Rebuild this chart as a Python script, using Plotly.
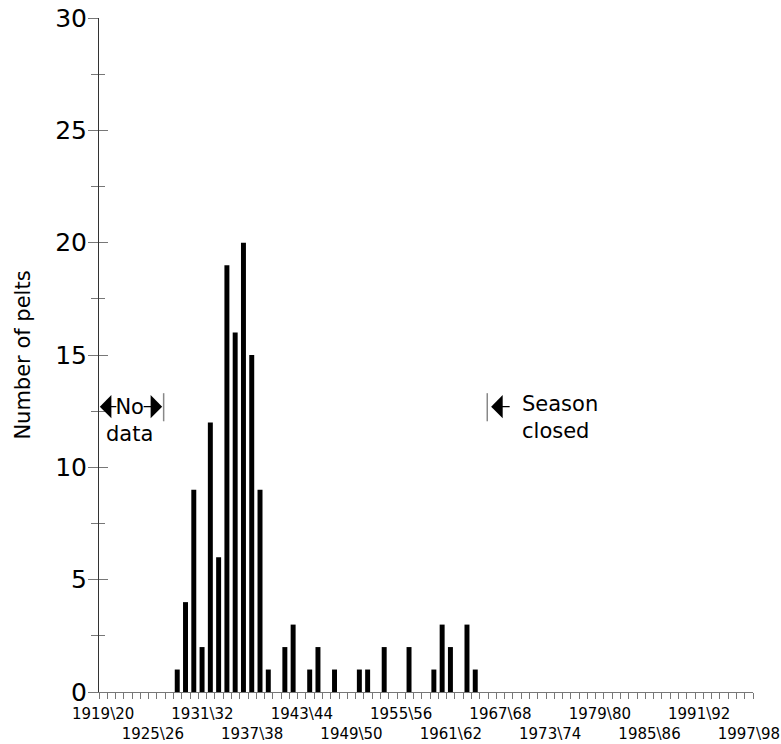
import plotly.graph_objects as go

# season start years with pelts recorded (1928\29 ... 1964\65)
seasons = [1928, 1929, 1930, 1931, 1932, 1933, 1934, 1935, 1936, 1937, 1938, 1939,
           1941, 1942, 1944, 1945, 1947, 1950, 1951, 1953, 1956, 1959, 1960, 1961,
           1963, 1964]
pelts = [1, 4, 9, 2, 12, 6, 19, 16, 20, 15, 9, 1,
         2, 3, 1, 2, 1, 1, 1, 2, 2, 1, 3, 2,
         3, 1]

label_years = [1919, 1925, 1931, 1937, 1943, 1949, 1955, 1961, 1967, 1973, 1979, 1985, 1991, 1997]
label_text = ["1919\\20", "1925\\26", "1931\\32", "1937\\38", "1943\\44", "1949\\50", "1955\\56",
              "1961\\62", "1967\\68", "1973\\74", "1979\\80", "1985\\86", "1991\\92", "1997\\98"]
first_year, last_year = 1919, 1998

FONT = "DejaVu Sans"
TICK_GREY = "#777"

# bars sit in the middle of each season's interval
fig = go.Figure(go.Bar(
    x=[s + 0.45 for s in seasons],
    y=pelts,
    width=0.6,
    marker=dict(color="black", line=dict(width=0)),
    showlegend=False,
))

# second row for every other label
ticktext = [t if i % 2 == 0 else "<br>" + t for i, t in enumerate(label_text)]

fig.update_layout(
    width=781, height=744,
    margin=dict(l=99, r=28, t=18, b=52),
    plot_bgcolor="white", paper_bgcolor="white",
    font=dict(family=FONT, color="black"),
    xaxis=dict(
        range=[first_year, last_year],
        tickmode="array",
        tickvals=[y + 0.5 for y in label_years],
        ticktext=ticktext,
        ticks="", tickangle=0, automargin=False, ticklabelstandoff=8,
        ticklabeloverflow="allow",
        tickfont=dict(size=15),
        showline=True, linecolor=TICK_GREY, linewidth=1,
        showgrid=False, zeroline=False,
        minor=dict(tickmode="array", tickvals=list(range(first_year, last_year + 1)),
                   ticks="outside", ticklen=6, tickcolor=TICK_GREY, tickwidth=1,
                   showgrid=False),
    ),
    yaxis=dict(
        range=[0, 30], automargin=False,
        tickmode="linear", tick0=0, dtick=5,
        ticks="outside", ticklen=10, tickcolor=TICK_GREY, tickwidth=1,
        tickfont=dict(size=25), ticklabelstandoff=-4,
        ticklabeloverflow="allow",
        showline=True, linecolor="#333", linewidth=1,
        showgrid=False, zeroline=False,
        minor=dict(dtick=2.5, ticks="outside", ticklen=7, tickcolor=TICK_GREY, showgrid=False),
        title=dict(text="Number of pelts", font=dict(size=21), standoff=18),
    ),
    # overlay axis only to make the y ticks cross the axis line
    yaxis2=dict(
        overlaying="y", side="left", range=[0, 30], automargin=False,
        tickmode="linear", tick0=0, dtick=5,
        ticks="inside", ticklen=9, tickcolor=TICK_GREY, tickwidth=1,
        showticklabels=False, showgrid=False, zeroline=False, showline=False,
        minor=dict(dtick=2.5, ticks="inside", ticklen=6, tickcolor=TICK_GREY, showgrid=False),
    ),
)

# invisible trace so the overlay axis is drawn
fig.add_trace(go.Scatter(x=[first_year], y=[0], yaxis="y2", mode="markers",
                         marker=dict(opacity=0), hoverinfo="skip", showlegend=False))

# notes
fig.add_annotation(x=1922.65, y=12.1, text="No<br>data", showarrow=False,
                   font=dict(size=21), align="center")
fig.add_annotation(x=1969.8, y=12.2, text="Season<br>closed", showarrow=False,
                   xanchor="left", align="left", font=dict(size=21))

arrow = dict(text="", showarrow=True, arrowhead=1, arrowsize=3.5, arrowwidth=1.1,
             arrowcolor="black", ay=0, standoff=0)
fig.add_annotation(x=1919.1, y=12.7, ax=18, **arrow)
fig.add_annotation(x=1926.63, y=12.7, ax=-20, **arrow)
fig.add_annotation(x=1966.37, y=12.7, ax=20, **arrow)

for xb in [1926.81, 1965.9]:
    fig.add_shape(type="line", x0=xb, x1=xb, y0=12.05, y1=13.3,
                  line=dict(color="#888", width=1.5))

# drop the default page margin so the figure fills the window exactly
fig.write_html("out.html", config={"displayModeBar": False},
               post_script="document.body.style.margin='0';")
